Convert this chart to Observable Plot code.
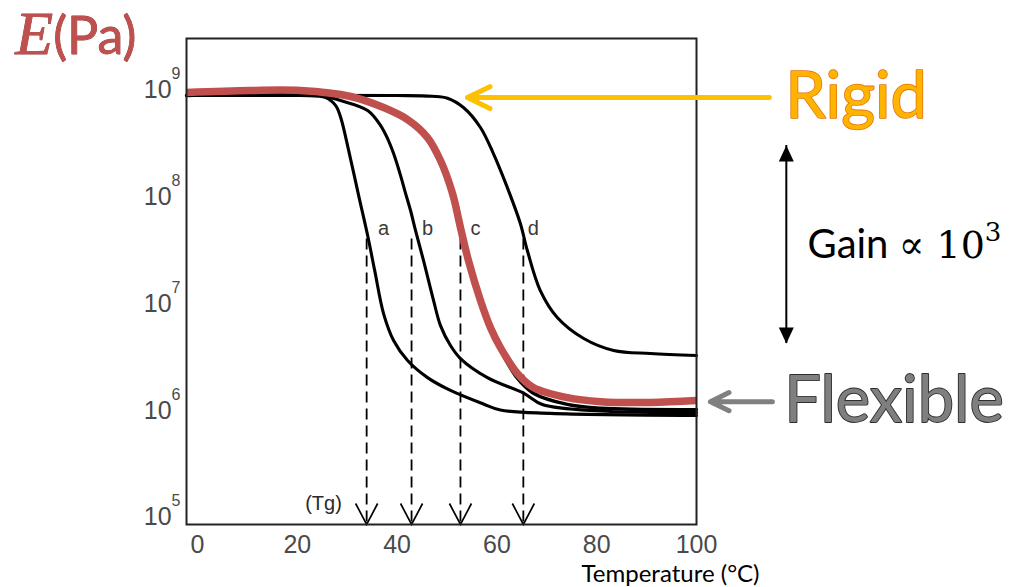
<!DOCTYPE html>
<html><head><meta charset="utf-8">
<script src="https://cdn.jsdelivr.net/npm/d3@7"></script>
<script src="https://cdn.jsdelivr.net/npm/@observablehq/plot@0.6"></script>
<style>html,body{margin:0;padding:0;background:#fff;} #chart svg{display:block}</style>
</head><body><div id="chart"></div>
<script>
// ---- data ----
const xTicks = [0, 20, 40, 60, 80, 100];
const yTicks = [1e5, 1e6, 1e7, 1e8, 1e9];
const xDomain = [-2.2, 100];
const yDomain = [8.6e4, 3.0e9];
const curveNames = ["a", "b", "c", "d"];
const tgValues = [33.9, 42.9, 52.7, 65.3];
const curveLabelT = [37.3, 46.1, 55.7, 67.3];
const curveLabelE = 5.0e7;
const tgLineTopE = 4.0e7;

// [temperature °C, E (Pa)]
const curveA = [[-2.2,8.79e8],[20.6,8.79e8],[25.7,8.41e8],[27.7,7.08e8],[28.7,5.47e8],[30.3,2.69e8],[32.3,1.02e8],[34.1,4.32e7],[35.5,2.05e7],[37.3,8.0e6],[39.3,4.51e6],[42.1,2.93e6],[46.1,2.03e6],[50.7,1.54e6],[57.3,1.15e6],[60.7,1.01e6],[70.7,9.4e5],[100,9.0e5]];
const curveB = [[-2.2,8.79e8],[24.6,8.79e8],[28.7,7.89e8],[34.1,6.37e8],[36.7,4.61e8],[38.1,3.48e8],[39.3,2.52e8],[40.7,1.57e8],[41.7,1.07e8],[42.7,7.40e7],[43.7,4.81e7],[45.3,2.52e7],[47.3,1.07e7],[48.7,6.22e6],[50.7,4.05e6],[52.7,3.06e6],[58.1,2.03e6],[65.5,1.44e6],[69.1,1.14e6],[80.8,9.9e5],[100,9.6e5]];
const curveC = [[-2.2,8.79e8],[30.7,8.61e8],[37.3,6.79e8],[42.1,5.24e8],[46.1,3.56e8],[48.7,2.17e8],[51.1,1.07e8],[52.7,5.13e7],[54.3,2.52e7],[56.7,1.07e7],[58.7,5.97e6],[60.7,3.7e6],[64.1,2.0e6],[67.3,1.45e6],[74.1,1.14e6],[80.8,1.05e6],[100,1.02e6]];
const curveD = [[-2.2,8.79e8],[40.0,8.79e8],[47.0,8.65e8],[50.1,8.3e8],[53.3,6.79e8],[56.7,4.42e8],[59.3,2.52e8],[62.1,1.21e8],[64.7,5.60e7],[66.1,3.13e7],[68.7,1.32e7],[72.1,7.40e6],[77.4,4.71e6],[83.4,3.64e6],[90.8,3.41e6],[100,3.27e6]];
const curveHighlight = [[-2.2,9.38e8],[10.6,9.79e8],[20.6,9.79e8],[30.7,8.61e8],[37.3,6.79e8],[42.1,5.24e8],[46.1,3.56e8],[48.7,2.17e8],[51.1,1.07e8],[52.7,5.13e7],[54.3,2.52e7],[56.7,1.07e7],[58.7,5.97e6],[60.7,3.88e6],[64.1,2.22e6],[67.3,1.64e6],[74.1,1.32e6],[80.8,1.21e6],[90.8,1.19e6],[100,1.24e6]];

// annotation texts & anchors (data coordinates)
const titleText = "E(Pa)";
const titleAt = [-36.5, 2.17e9];
const xLabelText = "Temperature (°C)";
const xLabelAt = [94.8, 2.47e4];
const tgText = "(Tg)";
const tgAt = [25.25, 1.35e5];
const rigidText = "Rigid";
const rigidAt = [117.8, 5.47e8];
const rigidArrow = {x1: 114.6, x2: 54.1, y: 8.41e8};
const flexText = "Flexible";
const flexAt = [117.6, 7.73e5];
const flexArrow = {x1: 115.2, x2: 102.8, y: 1.21e6};
const gainText = "Gain ∝ 10";
const gainExp = "3";
const gainAt = [122.25, 3.48e7];
const gainArrow = {x: 118.0, yTop: 3.0e8, yBottom: 4.23e6};

// custom symbols
const vHead = {draw(ctx) { ctx.moveTo(-11, -21); ctx.lineTo(0, 0); ctx.lineTo(11, -21); }};
const triUp = {draw(ctx) { ctx.moveTo(0, 0); ctx.lineTo(-7.5, 16); ctx.lineTo(7.5, 16); ctx.closePath(); }};
const triDown = {draw(ctx) { ctx.moveTo(0, 0); ctx.lineTo(-7.5, -16); ctx.lineTo(7.5, -16); ctx.closePath(); }};

const X = d => d[0], Y = d => d[1];
const calibri = "Lato, 'Open Sans', sans-serif";
const black = "#000";
const lineCurve = "catmull-rom";

const svg = Plot.plot({
  width: 1029, height: 587,
  marginLeft: 186, marginRight: 333, marginTop: 38, marginBottom: 63,
  style: {fontFamily: "'Liberation Sans', Arial, sans-serif", fontSize: "25px", background: "#fff", overflow: "visible"},
  x: {domain: xDomain},
  y: {type: "log", domain: yDomain},
  marks: [
    Plot.axisX({ticks: xTicks, tickSize: 0, tickPadding: 11, label: null, fill: "#4a4a4a"}),
    Plot.axisY({ticks: yTicks, tickSize: 0, tickPadding: 6, label: null, fill: "#4a4a4a",
      tickFormat: d => String(Math.round(Math.log10(d)))}),
    // Tg dashed drop lines and open heads
    Plot.ruleX(tgValues, {x: d => d, y1: tgLineTopE, y2: yDomain[0], stroke: black, strokeWidth: 1.8, strokeDasharray: "11,6"}),
    Plot.dot(tgValues, {x: d => d, y: yDomain[0], symbol: vHead, fill: "none", stroke: black, strokeWidth: 1.7}),
    // curves
    Plot.line(curveD, {x: X, y: Y, stroke: black, strokeWidth: 3.1, curve: lineCurve}),
    Plot.line(curveA, {x: X, y: Y, stroke: black, strokeWidth: 3.1, curve: lineCurve}),
    Plot.line(curveB, {x: X, y: Y, stroke: black, strokeWidth: 3.1, curve: lineCurve}),
    Plot.line(curveC, {x: X, y: Y, stroke: black, strokeWidth: 3.4, curve: lineCurve}),
    Plot.line(curveHighlight, {x: X, y: Y, stroke: "#C0504D", strokeWidth: 7.5, curve: lineCurve, strokeLinecap: "butt"}),
    // curve letters
    Plot.text(curveNames, {x: (d, i) => curveLabelT[i], y: curveLabelE, text: d => d, fontSize: 20, fill: "#3a3a3a", fontFamily: "'Liberation Sans', Arial, sans-serif"}),
    Plot.text([tgText], {x: tgAt[0], y: tgAt[1], text: d => d, fontSize: 20, fill: "#2a2a2a", fontFamily: "'Liberation Sans', Arial, sans-serif"}),
    Plot.frame({stroke: "#222", strokeWidth: 2}),
    // outside annotations
    Plot.text([titleText], {x: titleAt[0], y: titleAt[1], text: d => d, textAnchor: "start", lineAnchor: "bottom",
      fontSize: 52, fontFamily: calibri, fill: "#C0504D", stroke: "#8e3533", strokeWidth: 0.8}),
    Plot.text([xLabelText], {x: xLabelAt[0], y: xLabelAt[1], text: d => d, lineAnchor: "bottom", fontSize: 24, fontFamily: calibri, fill: "#000"}),
    Plot.arrow([rigidArrow], {x1: "x1", x2: "x2", y1: "y", y2: "y", stroke: "#FFC000", strokeWidth: 5, headLength: 7.5, headAngle: 52, strokeLinecap: "round", strokeLinejoin: "round"}),
    Plot.text([rigidText], {x: rigidAt[0], y: rigidAt[1], text: d => d, textAnchor: "start", lineAnchor: "bottom",
      fontSize: 65, fontFamily: calibri, fill: "#FFB400", stroke: "#E5730F", strokeWidth: 1.6}),
    Plot.arrow([flexArrow], {x1: "x1", x2: "x2", y1: "y", y2: "y", stroke: "#808080", strokeWidth: 5, headLength: 7.5, headAngle: 52, strokeLinecap: "round", strokeLinejoin: "round"}),
    Plot.text([flexText], {x: flexAt[0], y: flexAt[1], text: d => d, textAnchor: "start", lineAnchor: "bottom",
      fontSize: 65, fontFamily: calibri, fill: "#7F7F7F", stroke: "#2e2e2e", strokeWidth: 1.8}),
    Plot.ruleX([gainArrow], {x: "x", y1: "yTop", y2: "yBottom", stroke: "#000", strokeWidth: 2}),
    Plot.dot([gainArrow], {x: "x", y: "yTop", symbol: triUp, fill: "#000", stroke: "none"}),
    Plot.dot([gainArrow], {x: "x", y: "yBottom", symbol: triDown, fill: "#000", stroke: "none"}),
    Plot.text([gainText], {x: gainAt[0], y: gainAt[1], text: d => d, textAnchor: "start", fontSize: 40, fontFamily: calibri, fill: "#000"})
  ]
});
document.getElementById("chart").append(svg);

const NS = "http://www.w3.org/2000/svg";
function tspan(txt, attrs) {
  const t = document.createElementNS(NS, "tspan");
  for (const k in attrs) t.setAttribute(k, attrs[k]);
  t.textContent = txt;
  return t;
}
// superscript exponents on y tick labels
svg.querySelectorAll('g[aria-label="y-axis tick label"] text').forEach(t => {
  const e = t.textContent;
  t.textContent = "10";
  t.appendChild(tspan(e, {dy: "-19", "font-size": "16"}));
});
svg.querySelectorAll("text").forEach(t => {
  if (t.textContent === gainText) {
    t.textContent = "";
    t.appendChild(tspan("Gain ", {}));
    t.appendChild(tspan("∝ 10", {"font-family": "'DejaVu Serif', 'Liberation Serif', serif", "font-size": "38"}));
    t.appendChild(tspan(gainExp, {dy: "-17", "font-size": "26", "font-family": "'DejaVu Serif', 'Liberation Serif', serif"}));
  } else if (t.textContent === titleText) {
    t.textContent = "";
    t.appendChild(tspan("E", {"font-family": "'Liberation Serif', 'DejaVu Serif', serif", "font-style": "italic", "font-size": "62"}));
    t.appendChild(tspan("(Pa)", {}));
  }
});
</script>
</body></html>
